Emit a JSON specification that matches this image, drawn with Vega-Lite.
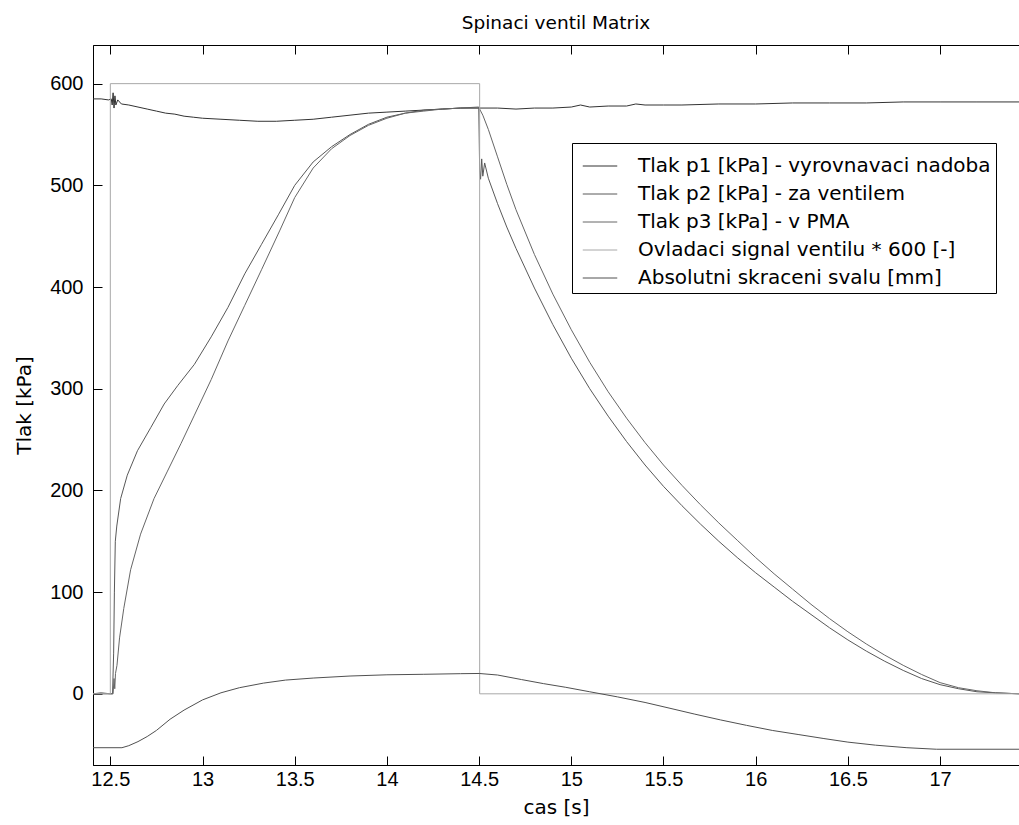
{
  "$schema": "https://vega.github.io/schema/vega-lite/v6.json",
  "width": 926,
  "height": 720,
  "autosize": {"type": "none"},
  "padding": {"left": 93, "top": 45, "right": 0, "bottom": 60},
  "background": "white",
  "title": {"text": "Spinaci ventil Matrix", "font": "DejaVu Sans", "fontSize": 18.5, "fontWeight": "normal", "color": "black", "anchor": "middle", "offset": 12},
  "config": {
    "view": {"stroke": null},
    "axis": {"grid": false, "labelFont": "Liberation Sans", "labelFontSize": 20, "labelColor": "black", "titleFont": "DejaVu Sans", "titleFontSize": 20, "titleFontWeight": "normal", "titleColor": "black", "domainColor": "black", "domainWidth": 1, "tickColor": "black", "tickSize": 9, "tickWidth": 1},
    "line": {"strokeWidth": 1}
  },
  "data": {"values": [
    {"s": "Tlak p1 [kPa] - vyrovnavaci nadoba", "t": 12.406, "v": 585},
    {"s": "Tlak p1 [kPa] - vyrovnavaci nadoba", "t": 12.45, "v": 585},
    {"s": "Tlak p1 [kPa] - vyrovnavaci nadoba", "t": 12.49, "v": 584},
    {"s": "Tlak p1 [kPa] - vyrovnavaci nadoba", "t": 12.505, "v": 585},
    {"s": "Tlak p1 [kPa] - vyrovnavaci nadoba", "t": 12.51, "v": 579},
    {"s": "Tlak p1 [kPa] - vyrovnavaci nadoba", "t": 12.515, "v": 591},
    {"s": "Tlak p1 [kPa] - vyrovnavaci nadoba", "t": 12.52, "v": 576},
    {"s": "Tlak p1 [kPa] - vyrovnavaci nadoba", "t": 12.525, "v": 588},
    {"s": "Tlak p1 [kPa] - vyrovnavaci nadoba", "t": 12.53, "v": 579},
    {"s": "Tlak p1 [kPa] - vyrovnavaci nadoba", "t": 12.54, "v": 584},
    {"s": "Tlak p1 [kPa] - vyrovnavaci nadoba", "t": 12.56, "v": 580},
    {"s": "Tlak p1 [kPa] - vyrovnavaci nadoba", "t": 12.6, "v": 579},
    {"s": "Tlak p1 [kPa] - vyrovnavaci nadoba", "t": 12.65, "v": 577},
    {"s": "Tlak p1 [kPa] - vyrovnavaci nadoba", "t": 12.7, "v": 575},
    {"s": "Tlak p1 [kPa] - vyrovnavaci nadoba", "t": 12.75, "v": 573},
    {"s": "Tlak p1 [kPa] - vyrovnavaci nadoba", "t": 12.8, "v": 571},
    {"s": "Tlak p1 [kPa] - vyrovnavaci nadoba", "t": 12.85, "v": 570},
    {"s": "Tlak p1 [kPa] - vyrovnavaci nadoba", "t": 12.9, "v": 568},
    {"s": "Tlak p1 [kPa] - vyrovnavaci nadoba", "t": 12.95, "v": 567},
    {"s": "Tlak p1 [kPa] - vyrovnavaci nadoba", "t": 13.0, "v": 566},
    {"s": "Tlak p1 [kPa] - vyrovnavaci nadoba", "t": 13.1, "v": 565},
    {"s": "Tlak p1 [kPa] - vyrovnavaci nadoba", "t": 13.2, "v": 564},
    {"s": "Tlak p1 [kPa] - vyrovnavaci nadoba", "t": 13.3, "v": 563},
    {"s": "Tlak p1 [kPa] - vyrovnavaci nadoba", "t": 13.4, "v": 563},
    {"s": "Tlak p1 [kPa] - vyrovnavaci nadoba", "t": 13.5, "v": 564},
    {"s": "Tlak p1 [kPa] - vyrovnavaci nadoba", "t": 13.6, "v": 565},
    {"s": "Tlak p1 [kPa] - vyrovnavaci nadoba", "t": 13.7, "v": 567},
    {"s": "Tlak p1 [kPa] - vyrovnavaci nadoba", "t": 13.8, "v": 569},
    {"s": "Tlak p1 [kPa] - vyrovnavaci nadoba", "t": 13.9, "v": 571},
    {"s": "Tlak p1 [kPa] - vyrovnavaci nadoba", "t": 14.0, "v": 572},
    {"s": "Tlak p1 [kPa] - vyrovnavaci nadoba", "t": 14.1, "v": 573},
    {"s": "Tlak p1 [kPa] - vyrovnavaci nadoba", "t": 14.2, "v": 574},
    {"s": "Tlak p1 [kPa] - vyrovnavaci nadoba", "t": 14.3, "v": 575},
    {"s": "Tlak p1 [kPa] - vyrovnavaci nadoba", "t": 14.4, "v": 576},
    {"s": "Tlak p1 [kPa] - vyrovnavaci nadoba", "t": 14.5, "v": 576},
    {"s": "Tlak p1 [kPa] - vyrovnavaci nadoba", "t": 14.6, "v": 576},
    {"s": "Tlak p1 [kPa] - vyrovnavaci nadoba", "t": 14.7, "v": 575},
    {"s": "Tlak p1 [kPa] - vyrovnavaci nadoba", "t": 14.8, "v": 576},
    {"s": "Tlak p1 [kPa] - vyrovnavaci nadoba", "t": 14.9, "v": 576},
    {"s": "Tlak p1 [kPa] - vyrovnavaci nadoba", "t": 15.0, "v": 577},
    {"s": "Tlak p1 [kPa] - vyrovnavaci nadoba", "t": 15.05, "v": 579},
    {"s": "Tlak p1 [kPa] - vyrovnavaci nadoba", "t": 15.1, "v": 577},
    {"s": "Tlak p1 [kPa] - vyrovnavaci nadoba", "t": 15.2, "v": 578},
    {"s": "Tlak p1 [kPa] - vyrovnavaci nadoba", "t": 15.3, "v": 578},
    {"s": "Tlak p1 [kPa] - vyrovnavaci nadoba", "t": 15.35, "v": 580},
    {"s": "Tlak p1 [kPa] - vyrovnavaci nadoba", "t": 15.4, "v": 579},
    {"s": "Tlak p1 [kPa] - vyrovnavaci nadoba", "t": 15.5, "v": 579},
    {"s": "Tlak p1 [kPa] - vyrovnavaci nadoba", "t": 15.6, "v": 579},
    {"s": "Tlak p1 [kPa] - vyrovnavaci nadoba", "t": 15.8, "v": 580},
    {"s": "Tlak p1 [kPa] - vyrovnavaci nadoba", "t": 16.0, "v": 580},
    {"s": "Tlak p1 [kPa] - vyrovnavaci nadoba", "t": 16.2, "v": 581},
    {"s": "Tlak p1 [kPa] - vyrovnavaci nadoba", "t": 16.4, "v": 581},
    {"s": "Tlak p1 [kPa] - vyrovnavaci nadoba", "t": 16.6, "v": 581},
    {"s": "Tlak p1 [kPa] - vyrovnavaci nadoba", "t": 16.8, "v": 582},
    {"s": "Tlak p1 [kPa] - vyrovnavaci nadoba", "t": 17.0, "v": 582},
    {"s": "Tlak p1 [kPa] - vyrovnavaci nadoba", "t": 17.2, "v": 582},
    {"s": "Tlak p1 [kPa] - vyrovnavaci nadoba", "t": 17.428, "v": 582},

    {"s": "Tlak p2 [kPa] - za ventilem", "t": 12.406, "v": 0},
    {"s": "Tlak p2 [kPa] - za ventilem", "t": 12.45, "v": 1},
    {"s": "Tlak p2 [kPa] - za ventilem", "t": 12.5, "v": 0},
    {"s": "Tlak p2 [kPa] - za ventilem", "t": 12.512, "v": 0},
    {"s": "Tlak p2 [kPa] - za ventilem", "t": 12.518, "v": 40},
    {"s": "Tlak p2 [kPa] - za ventilem", "t": 12.522, "v": 100},
    {"s": "Tlak p2 [kPa] - za ventilem", "t": 12.527, "v": 150},
    {"s": "Tlak p2 [kPa] - za ventilem", "t": 12.535, "v": 165},
    {"s": "Tlak p2 [kPa] - za ventilem", "t": 12.556, "v": 192},
    {"s": "Tlak p2 [kPa] - za ventilem", "t": 12.592, "v": 215},
    {"s": "Tlak p2 [kPa] - za ventilem", "t": 12.647, "v": 239},
    {"s": "Tlak p2 [kPa] - za ventilem", "t": 12.72, "v": 262},
    {"s": "Tlak p2 [kPa] - za ventilem", "t": 12.792, "v": 285},
    {"s": "Tlak p2 [kPa] - za ventilem", "t": 12.865, "v": 303},
    {"s": "Tlak p2 [kPa] - za ventilem", "t": 12.956, "v": 324},
    {"s": "Tlak p2 [kPa] - za ventilem", "t": 13.047, "v": 351},
    {"s": "Tlak p2 [kPa] - za ventilem", "t": 13.138, "v": 380},
    {"s": "Tlak p2 [kPa] - za ventilem", "t": 13.229, "v": 413},
    {"s": "Tlak p2 [kPa] - za ventilem", "t": 13.32, "v": 442},
    {"s": "Tlak p2 [kPa] - za ventilem", "t": 13.411, "v": 471},
    {"s": "Tlak p2 [kPa] - za ventilem", "t": 13.5, "v": 500},
    {"s": "Tlak p2 [kPa] - za ventilem", "t": 13.6, "v": 523},
    {"s": "Tlak p2 [kPa] - za ventilem", "t": 13.7, "v": 538},
    {"s": "Tlak p2 [kPa] - za ventilem", "t": 13.8, "v": 550},
    {"s": "Tlak p2 [kPa] - za ventilem", "t": 13.9, "v": 560},
    {"s": "Tlak p2 [kPa] - za ventilem", "t": 14.0, "v": 567},
    {"s": "Tlak p2 [kPa] - za ventilem", "t": 14.1, "v": 571},
    {"s": "Tlak p2 [kPa] - za ventilem", "t": 14.2, "v": 574},
    {"s": "Tlak p2 [kPa] - za ventilem", "t": 14.3, "v": 575},
    {"s": "Tlak p2 [kPa] - za ventilem", "t": 14.4, "v": 576},
    {"s": "Tlak p2 [kPa] - za ventilem", "t": 14.498, "v": 577},
    {"s": "Tlak p2 [kPa] - za ventilem", "t": 14.503, "v": 515},
    {"s": "Tlak p2 [kPa] - za ventilem", "t": 14.508, "v": 506},
    {"s": "Tlak p2 [kPa] - za ventilem", "t": 14.514, "v": 526},
    {"s": "Tlak p2 [kPa] - za ventilem", "t": 14.52, "v": 509},
    {"s": "Tlak p2 [kPa] - za ventilem", "t": 14.53, "v": 522},
    {"s": "Tlak p2 [kPa] - za ventilem", "t": 14.55, "v": 507},
    {"s": "Tlak p2 [kPa] - za ventilem", "t": 14.6, "v": 482},
    {"s": "Tlak p2 [kPa] - za ventilem", "t": 14.65, "v": 459},
    {"s": "Tlak p2 [kPa] - za ventilem", "t": 14.7, "v": 438},
    {"s": "Tlak p2 [kPa] - za ventilem", "t": 14.8, "v": 399},
    {"s": "Tlak p2 [kPa] - za ventilem", "t": 14.9, "v": 363},
    {"s": "Tlak p2 [kPa] - za ventilem", "t": 15.0, "v": 330},
    {"s": "Tlak p2 [kPa] - za ventilem", "t": 15.1, "v": 300},
    {"s": "Tlak p2 [kPa] - za ventilem", "t": 15.2, "v": 273},
    {"s": "Tlak p2 [kPa] - za ventilem", "t": 15.3, "v": 248},
    {"s": "Tlak p2 [kPa] - za ventilem", "t": 15.4, "v": 225},
    {"s": "Tlak p2 [kPa] - za ventilem", "t": 15.5, "v": 204},
    {"s": "Tlak p2 [kPa] - za ventilem", "t": 15.6, "v": 185},
    {"s": "Tlak p2 [kPa] - za ventilem", "t": 15.7, "v": 167},
    {"s": "Tlak p2 [kPa] - za ventilem", "t": 15.8, "v": 150},
    {"s": "Tlak p2 [kPa] - za ventilem", "t": 15.9, "v": 134},
    {"s": "Tlak p2 [kPa] - za ventilem", "t": 16.0, "v": 119},
    {"s": "Tlak p2 [kPa] - za ventilem", "t": 16.1, "v": 105},
    {"s": "Tlak p2 [kPa] - za ventilem", "t": 16.2, "v": 91},
    {"s": "Tlak p2 [kPa] - za ventilem", "t": 16.3, "v": 78},
    {"s": "Tlak p2 [kPa] - za ventilem", "t": 16.4, "v": 65},
    {"s": "Tlak p2 [kPa] - za ventilem", "t": 16.5, "v": 53},
    {"s": "Tlak p2 [kPa] - za ventilem", "t": 16.6, "v": 42},
    {"s": "Tlak p2 [kPa] - za ventilem", "t": 16.7, "v": 32},
    {"s": "Tlak p2 [kPa] - za ventilem", "t": 16.8, "v": 23},
    {"s": "Tlak p2 [kPa] - za ventilem", "t": 16.9, "v": 15},
    {"s": "Tlak p2 [kPa] - za ventilem", "t": 17.0, "v": 9},
    {"s": "Tlak p2 [kPa] - za ventilem", "t": 17.1, "v": 5},
    {"s": "Tlak p2 [kPa] - za ventilem", "t": 17.2, "v": 2},
    {"s": "Tlak p2 [kPa] - za ventilem", "t": 17.3, "v": 1},
    {"s": "Tlak p2 [kPa] - za ventilem", "t": 17.428, "v": 0},

    {"s": "Tlak p3 [kPa] - v PMA", "t": 12.406, "v": 0},
    {"s": "Tlak p3 [kPa] - v PMA", "t": 12.5, "v": 0},
    {"s": "Tlak p3 [kPa] - v PMA", "t": 12.515, "v": 0},
    {"s": "Tlak p3 [kPa] - v PMA", "t": 12.52, "v": 15},
    {"s": "Tlak p3 [kPa] - v PMA", "t": 12.524, "v": 5},
    {"s": "Tlak p3 [kPa] - v PMA", "t": 12.528, "v": 20},
    {"s": "Tlak p3 [kPa] - v PMA", "t": 12.536, "v": 28},
    {"s": "Tlak p3 [kPa] - v PMA", "t": 12.55, "v": 55},
    {"s": "Tlak p3 [kPa] - v PMA", "t": 12.573, "v": 84},
    {"s": "Tlak p3 [kPa] - v PMA", "t": 12.61, "v": 122},
    {"s": "Tlak p3 [kPa] - v PMA", "t": 12.664, "v": 157},
    {"s": "Tlak p3 [kPa] - v PMA", "t": 12.737, "v": 192},
    {"s": "Tlak p3 [kPa] - v PMA", "t": 12.81, "v": 219},
    {"s": "Tlak p3 [kPa] - v PMA", "t": 12.883, "v": 246},
    {"s": "Tlak p3 [kPa] - v PMA", "t": 12.956, "v": 274},
    {"s": "Tlak p3 [kPa] - v PMA", "t": 13.047, "v": 309},
    {"s": "Tlak p3 [kPa] - v PMA", "t": 13.138, "v": 347},
    {"s": "Tlak p3 [kPa] - v PMA", "t": 13.229, "v": 382},
    {"s": "Tlak p3 [kPa] - v PMA", "t": 13.32, "v": 417},
    {"s": "Tlak p3 [kPa] - v PMA", "t": 13.42, "v": 456},
    {"s": "Tlak p3 [kPa] - v PMA", "t": 13.5, "v": 488},
    {"s": "Tlak p3 [kPa] - v PMA", "t": 13.6, "v": 517},
    {"s": "Tlak p3 [kPa] - v PMA", "t": 13.7, "v": 536},
    {"s": "Tlak p3 [kPa] - v PMA", "t": 13.8, "v": 549},
    {"s": "Tlak p3 [kPa] - v PMA", "t": 13.9, "v": 559},
    {"s": "Tlak p3 [kPa] - v PMA", "t": 14.0, "v": 566},
    {"s": "Tlak p3 [kPa] - v PMA", "t": 14.1, "v": 571},
    {"s": "Tlak p3 [kPa] - v PMA", "t": 14.2, "v": 573},
    {"s": "Tlak p3 [kPa] - v PMA", "t": 14.3, "v": 575},
    {"s": "Tlak p3 [kPa] - v PMA", "t": 14.4, "v": 576},
    {"s": "Tlak p3 [kPa] - v PMA", "t": 14.5, "v": 576},
    {"s": "Tlak p3 [kPa] - v PMA", "t": 14.52, "v": 569},
    {"s": "Tlak p3 [kPa] - v PMA", "t": 14.55, "v": 555},
    {"s": "Tlak p3 [kPa] - v PMA", "t": 14.6, "v": 528},
    {"s": "Tlak p3 [kPa] - v PMA", "t": 14.65, "v": 501},
    {"s": "Tlak p3 [kPa] - v PMA", "t": 14.7, "v": 476},
    {"s": "Tlak p3 [kPa] - v PMA", "t": 14.8, "v": 432},
    {"s": "Tlak p3 [kPa] - v PMA", "t": 14.9, "v": 393},
    {"s": "Tlak p3 [kPa] - v PMA", "t": 15.0, "v": 358},
    {"s": "Tlak p3 [kPa] - v PMA", "t": 15.1, "v": 326},
    {"s": "Tlak p3 [kPa] - v PMA", "t": 15.2, "v": 297},
    {"s": "Tlak p3 [kPa] - v PMA", "t": 15.3, "v": 271},
    {"s": "Tlak p3 [kPa] - v PMA", "t": 15.4, "v": 247},
    {"s": "Tlak p3 [kPa] - v PMA", "t": 15.5, "v": 225},
    {"s": "Tlak p3 [kPa] - v PMA", "t": 15.6, "v": 205},
    {"s": "Tlak p3 [kPa] - v PMA", "t": 15.7, "v": 186},
    {"s": "Tlak p3 [kPa] - v PMA", "t": 15.8, "v": 168},
    {"s": "Tlak p3 [kPa] - v PMA", "t": 15.9, "v": 151},
    {"s": "Tlak p3 [kPa] - v PMA", "t": 16.0, "v": 134},
    {"s": "Tlak p3 [kPa] - v PMA", "t": 16.1, "v": 118},
    {"s": "Tlak p3 [kPa] - v PMA", "t": 16.2, "v": 103},
    {"s": "Tlak p3 [kPa] - v PMA", "t": 16.3, "v": 88},
    {"s": "Tlak p3 [kPa] - v PMA", "t": 16.4, "v": 74},
    {"s": "Tlak p3 [kPa] - v PMA", "t": 16.5, "v": 61},
    {"s": "Tlak p3 [kPa] - v PMA", "t": 16.6, "v": 49},
    {"s": "Tlak p3 [kPa] - v PMA", "t": 16.7, "v": 38},
    {"s": "Tlak p3 [kPa] - v PMA", "t": 16.8, "v": 28},
    {"s": "Tlak p3 [kPa] - v PMA", "t": 16.9, "v": 19},
    {"s": "Tlak p3 [kPa] - v PMA", "t": 17.0, "v": 11},
    {"s": "Tlak p3 [kPa] - v PMA", "t": 17.1, "v": 6},
    {"s": "Tlak p3 [kPa] - v PMA", "t": 17.2, "v": 3},
    {"s": "Tlak p3 [kPa] - v PMA", "t": 17.3, "v": 1},
    {"s": "Tlak p3 [kPa] - v PMA", "t": 17.428, "v": 0},

    {"s": "Ovladaci signal ventilu * 600 [-]", "t": 12.406, "v": 0},
    {"s": "Ovladaci signal ventilu * 600 [-]", "t": 12.4999, "v": 0},
    {"s": "Ovladaci signal ventilu * 600 [-]", "t": 12.5, "v": 600},
    {"s": "Ovladaci signal ventilu * 600 [-]", "t": 14.5029, "v": 600},
    {"s": "Ovladaci signal ventilu * 600 [-]", "t": 14.503, "v": 0},
    {"s": "Ovladaci signal ventilu * 600 [-]", "t": 17.428, "v": 0},

    {"s": "Absolutni skraceni svalu [mm]", "t": 12.406, "v": -53},
    {"s": "Absolutni skraceni svalu [mm]", "t": 12.563, "v": -53},
    {"s": "Absolutni skraceni svalu [mm]", "t": 12.6, "v": -51},
    {"s": "Absolutni skraceni svalu [mm]", "t": 12.65, "v": -47},
    {"s": "Absolutni skraceni svalu [mm]", "t": 12.7, "v": -42},
    {"s": "Absolutni skraceni svalu [mm]", "t": 12.75, "v": -36},
    {"s": "Absolutni skraceni svalu [mm]", "t": 12.824, "v": -25},
    {"s": "Absolutni skraceni svalu [mm]", "t": 12.9, "v": -16},
    {"s": "Absolutni skraceni svalu [mm]", "t": 13.0, "v": -6},
    {"s": "Absolutni skraceni svalu [mm]", "t": 13.1, "v": 1},
    {"s": "Absolutni skraceni svalu [mm]", "t": 13.2, "v": 6},
    {"s": "Absolutni skraceni svalu [mm]", "t": 13.33, "v": 10.5},
    {"s": "Absolutni skraceni svalu [mm]", "t": 13.45, "v": 13.5},
    {"s": "Absolutni skraceni svalu [mm]", "t": 13.6, "v": 15.5},
    {"s": "Absolutni skraceni svalu [mm]", "t": 13.8, "v": 17.5},
    {"s": "Absolutni skraceni svalu [mm]", "t": 14.0, "v": 18.7},
    {"s": "Absolutni skraceni svalu [mm]", "t": 14.2, "v": 19.2},
    {"s": "Absolutni skraceni svalu [mm]", "t": 14.4, "v": 19.8},
    {"s": "Absolutni skraceni svalu [mm]", "t": 14.5, "v": 20},
    {"s": "Absolutni skraceni svalu [mm]", "t": 14.6, "v": 18.5},
    {"s": "Absolutni skraceni svalu [mm]", "t": 14.73, "v": 14},
    {"s": "Absolutni skraceni svalu [mm]", "t": 14.85, "v": 10},
    {"s": "Absolutni skraceni svalu [mm]", "t": 14.97, "v": 6.4},
    {"s": "Absolutni skraceni svalu [mm]", "t": 15.1, "v": 2},
    {"s": "Absolutni skraceni svalu [mm]", "t": 15.25, "v": -3},
    {"s": "Absolutni skraceni svalu [mm]", "t": 15.4, "v": -8.5},
    {"s": "Absolutni skraceni svalu [mm]", "t": 15.53, "v": -14},
    {"s": "Absolutni skraceni svalu [mm]", "t": 15.67, "v": -20},
    {"s": "Absolutni skraceni svalu [mm]", "t": 15.81, "v": -25.7},
    {"s": "Absolutni skraceni svalu [mm]", "t": 15.95, "v": -31},
    {"s": "Absolutni skraceni svalu [mm]", "t": 16.09, "v": -36},
    {"s": "Absolutni skraceni svalu [mm]", "t": 16.23, "v": -40},
    {"s": "Absolutni skraceni svalu [mm]", "t": 16.37, "v": -44},
    {"s": "Absolutni skraceni svalu [mm]", "t": 16.5, "v": -47.5},
    {"s": "Absolutni skraceni svalu [mm]", "t": 16.65, "v": -50.5},
    {"s": "Absolutni skraceni svalu [mm]", "t": 16.82, "v": -53},
    {"s": "Absolutni skraceni svalu [mm]", "t": 16.98, "v": -54.5},
    {"s": "Absolutni skraceni svalu [mm]", "t": 17.428, "v": -54.5}
  ]},
  "resolve": {"axis": {"x": "independent", "y": "independent"}},
  "layer": [
    {
      "mark": {"type": "line", "strokeWidth": 1, "clip": true},
      "encoding": {
        "x": {"field": "t", "type": "quantitative",
              "scale": {"domain": [12.406, 17.428], "nice": false, "zero": false},
              "axis": {"orient": "bottom", "values": [12.5, 13, 13.5, 14, 14.5, 15, 15.5, 16, 16.5, 17], "format": "~g", "ticks": false, "labelPadding": 4, "title": "cas [s]", "titlePadding": 8, "labelFlush": false}},
        "y": {"field": "v", "type": "quantitative",
              "scale": {"domain": [-70, 638], "nice": false, "zero": false},
              "axis": {"orient": "left", "values": [0, 100, 200, 300, 400, 500, 600], "ticks": false, "labelPadding": 10, "title": "Tlak [kPa]", "titlePadding": 15}},
        "color": {"field": "s", "type": "nominal",
                  "scale": {"domain": ["Tlak p1 [kPa] - vyrovnavaci nadoba", "Tlak p2 [kPa] - za ventilem", "Tlak p3 [kPa] - v PMA", "Ovladaci signal ventilu * 600 [-]", "Absolutni skraceni svalu [mm]"],
                            "range": ["#333333", "#585858", "#666666", "#a8a8a8", "#505050"]},
                  "legend": {"title": null, "orient": "none", "legendX": 479, "legendY": 98,
                             "fillColor": "white", "strokeColor": "black", "padding": 5, "cornerRadius": 0,
                             "symbolType": "stroke", "symbolSize": 1190, "symbolStrokeWidth": 1, "symbolOffset": 5,
                             "labelFont": "DejaVu Sans", "labelFontSize": 20, "labelColor": "black", "labelOffset": 20, "labelLimit": 0, "rowPadding": 0}}
      }
    },
    {
      "mark": {"type": "point", "opacity": 0},
      "encoding": {
        "x": {"field": "t", "type": "quantitative",
              "axis": {"orient": "top", "offset": -720, "values": [12.5, 13, 13.5, 14, 14.5, 15, 15.5, 16, 16.5, 17], "labels": false, "title": null}},
        "y": {"field": "v", "type": "quantitative",
              "axis": {"orient": "right", "offset": -926, "values": [0, 100, 200, 300, 400, 500, 600], "labels": false, "title": null}}
      }
    },
    {
      "mark": {"type": "point", "opacity": 0},
      "encoding": {
        "x": {"field": "t", "type": "quantitative",
              "axis": {"orient": "bottom", "offset": -720, "values": [12.5, 13, 13.5, 14, 14.5, 15, 15.5, 16, 16.5, 17], "labels": false, "title": null}},
        "y": {"field": "v", "type": "quantitative", "axis": null}
      }
    }
  ]
}
